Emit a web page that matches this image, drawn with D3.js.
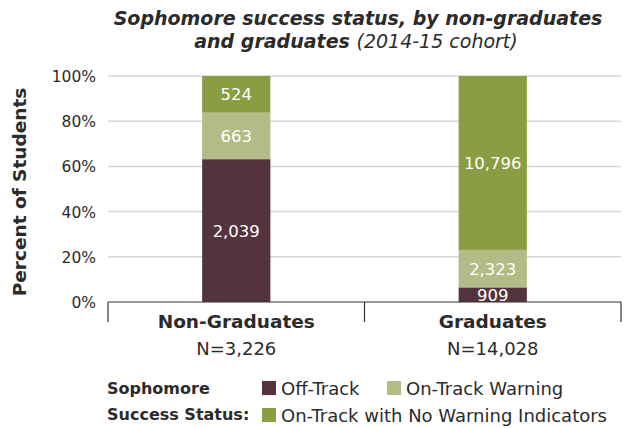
<!DOCTYPE html>
<html>
<head>
    <meta charset="utf-8">
    <script src="https://d3js.org/d3.v7.min.js"></script>
    <style>
        body { margin: 0; background: #fff; }
        text { font-family: "DejaVu Sans", sans-serif; fill: #2b2b2b; }
    </style>
</head>
<body>
<script>
    var width = 629, height = 428;

    // data
    var groups = ["Non-Graduates", "Graduates"];
    var groupN = ["N=3,226", "N=14,028"];
    var statuses = ["Off-Track", "On-Track Warning", "On-Track with No Warning Indicators"];
    var offTrack = [2039, 909];
    var onTrackWarning = [663, 2323];
    var onTrackNoWarning = [524, 10796];
    var yTicks = [0, 20, 40, 60, 80, 100];
    var colors = ["#54333d", "#b3bc86", "#899d42"];

    var rows = groups.map(function (g, i) {
        return { group: g, vals: [offTrack[i], onTrackWarning[i], onTrackNoWarning[i]] };
    });

    var svg = d3.select("body").append("svg")
        .attr("width", width)
        .attr("height", height);

    var plot = { left: 108, right: 621, top: 76, bottom: 302 };

    var x = d3.scaleBand()
        .domain(groups)
        .range([plot.left, plot.right])
        .paddingInner(0.734)
        .paddingOuter(0.367);

    var y = d3.scaleLinear()
        .domain([0, 100])
        .range([plot.bottom, plot.top]);

    // title
    var title = svg.append("text")
        .attr("text-anchor", "middle")
        .attr("font-size", 19)
        .attr("font-style", "italic");
    title.append("tspan")
        .attr("x", 358).attr("y", 25)
        .attr("font-weight", "bold")
        .text("Sophomore success status, by non-graduates");
    var t2 = title.append("tspan").attr("x", 356).attr("y", 48);
    t2.append("tspan").attr("font-weight", "bold").text("and graduates ");
    t2.append("tspan").text("(2014-15 cohort)");

    // gridlines
    svg.append("g").selectAll("line")
        .data(yTicks.filter(function (d) { return d > 0; }))
        .enter().append("line")
        .attr("x1", plot.left).attr("x2", plot.right)
        .attr("y1", function (d) { return y(d); })
        .attr("y2", function (d) { return y(d); })
        .attr("stroke", "#d6d6d6")
        .attr("stroke-width", 1.5);

    // y axis labels
    var yAxis = svg.append("g")
        .attr("transform", "translate(" + (plot.left - 9) + ",0)")
        .call(d3.axisLeft(y).tickValues(yTicks).tickSize(0).tickFormat(function (d) { return d + "%"; }));
    yAxis.select(".domain").remove();
    yAxis.selectAll("text")
        .attr("font-size", 15.5)
        .attr("font-family", "DejaVu Sans, sans-serif")
        .attr("fill", "#333")
        .attr("dy", "0.36em");

    svg.append("text")
        .attr("transform", "translate(26,192) rotate(-90)")
        .attr("text-anchor", "middle")
        .attr("font-size", 18.5)
        .attr("font-weight", "bold")
        .text("Percent of Students");

    // stacked bars
    var stack = rows.map(function (r) {
        var total = d3.sum(r.vals), acc = 0;
        return r.vals.map(function (v, k) {
            var seg = { group: r.group, k: k, v: v, y0: acc / total * 100, y1: (acc + v) / total * 100 };
            acc += v;
            return seg;
        });
    });
    var segs = d3.merge(stack);

    svg.append("g").selectAll("rect")
        .data(segs)
        .enter().append("rect")
        .attr("x", function (d) { return x(d.group); })
        .attr("width", x.bandwidth())
        .attr("y", function (d) { return y(d.y1); })
        .attr("height", function (d) { return y(d.y0) - y(d.y1); })
        .attr("fill", function (d) { return colors[d.k]; });

    svg.append("g").selectAll("text")
        .data(segs)
        .enter().append("text")
        .attr("x", function (d) { return x(d.group) + x.bandwidth() / 2; })
        .attr("y", function (d) { return (y(d.y0) + y(d.y1)) / 2; })
        .attr("dy", "0.36em")
        .attr("text-anchor", "middle")
        .attr("font-size", 16.5)
        .style("fill", "#fff")
        .text(function (d) { return d3.format(",")(d.v); });

    // x axis with tick marks at band boundaries
    var bounds = [plot.left, x(groups[1]) - x.step() * x.paddingInner() / 2, plot.right];
    svg.append("line")
        .attr("x1", plot.left).attr("x2", plot.right)
        .attr("y1", plot.bottom).attr("y2", plot.bottom)
        .attr("stroke", "#333").attr("stroke-width", 1.2);
    svg.append("g").selectAll("line")
        .data(bounds)
        .enter().append("line")
        .attr("x1", function (d) { return d; }).attr("x2", function (d) { return d; })
        .attr("y1", plot.bottom).attr("y2", plot.bottom + 20)
        .attr("stroke", "#333").attr("stroke-width", 1.2);

    var xl = svg.append("g").selectAll("g")
        .data(groups)
        .enter().append("g");
    xl.append("text")
        .attr("x", function (d) { return x(d) + x.bandwidth() / 2; })
        .attr("y", 328)
        .attr("text-anchor", "middle")
        .attr("font-size", 18.5)
        .attr("font-weight", "bold")
        .text(function (d) { return d; });
    xl.append("text")
        .attr("x", function (d) { return x(d) + x.bandwidth() / 2; })
        .attr("y", 355)
        .attr("text-anchor", "middle")
        .attr("font-size", 18)
        .text(function (d, i) { return groupN[i]; });

    // legend
    var lg = svg.append("g");
    lg.append("text").attr("x", 107).attr("y", 394)
        .attr("font-size", 16).attr("font-weight", "bold").text("Sophomore");
    lg.append("text").attr("x", 107).attr("y", 420)
        .attr("font-size", 16).attr("font-weight", "bold").text("Success Status:");
    var legendPos = [[262, 381], [387, 381], [262, 408]];
    var items = lg.selectAll("g.item")
        .data(statuses)
        .enter().append("g")
        .attr("transform", function (d, i) { return "translate(" + legendPos[i][0] + "," + legendPos[i][1] + ")"; });
    items.append("rect")
        .attr("width", 14).attr("height", 14)
        .attr("fill", function (d, i) { return colors[i]; });
    items.append("text")
        .attr("x", 19).attr("y", 13.5)
        .attr("font-size", 18)
        .text(function (d) { return d; });
</script>
</body>
</html>
